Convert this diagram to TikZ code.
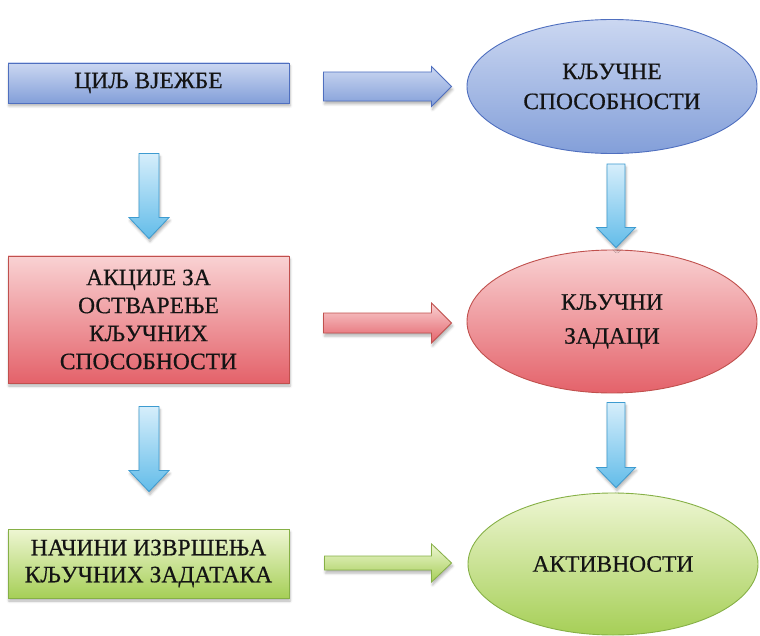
\documentclass[tikz,border=0pt]{standalone}
\usepackage{fontspec}
\setmainfont{Liberation Serif}
\newfontfamily\labelfont{Liberation Serif}[FakeBold=0.5]
\usetikzlibrary{calc,shapes.geometric,shadows.blur}

% colours of the three rows and of the vertical arrows
\definecolor{bluetop}{HTML}{CBD7F1}
\definecolor{bluebot}{HTML}{839FD9}
\definecolor{blueline}{HTML}{4F6FBF}
\definecolor{redtop}{HTML}{F9D2D3}
\definecolor{redbot}{HTML}{E4626A}
\definecolor{redline}{HTML}{C0504D}
\definecolor{greentop}{HTML}{EEF6D3}
\definecolor{greenbot}{HTML}{A6CF57}
\definecolor{greenline}{HTML}{86B046}
\definecolor{skytop}{HTML}{D6EEFB}
\definecolor{skybot}{HTML}{62BCE9}
\definecolor{skyline}{HTML}{3D9BD0}
\definecolor{ink}{HTML}{141414}

\tikzset{
  txt/.style={font=\labelfont\fontsize{23.5}{28}\selectfont, align=center, text=ink},
  softshadow/.style={blur shadow={shadow xshift=1pt, shadow yshift=-3pt,
      shadow opacity=30, shadow blur radius=2.5pt}},
  card/.style={rectangle, draw, line width=0.9pt, minimum width=281pt,
      inner sep=0pt, txt, softshadow},
  oval/.style={ellipse, draw, line width=0.9pt, minimum width=290pt,
      inner sep=0pt, txt},
  bluefill/.style={top color=bluetop, bottom color=bluebot, draw=blueline},
  redfill/.style={top color=redtop, bottom color=redbot, draw=redline},
  greenfill/.style={top color=greentop, bottom color=greenbot, draw=greenline},
  skyarrow/.style={top color=skytop, bottom color=skybot, draw=skyline,
      line width=0.8pt, line join=miter, softshadow},
  rowarrow/.style={line width=0.8pt, line join=miter, softshadow},
}

% block arrow pointing right: style, tail, tip, half body, half head, head length
\newcommand{\blockarrowH}[6]{%
  \draw[#1] ($(#2)+(0,-#4)$) -- ($(#3)+(-#6,-#4)$) -- ($(#3)+(-#6,-#5)$)
    -- (#3) -- ($(#3)+(-#6,#5)$) -- ($(#3)+(-#6,#4)$) -- ($(#2)+(0,#4)$) -- cycle;}
% block arrow pointing down: style, tail, tip, half body, half head, head length
\newcommand{\blockarrowV}[6]{%
  \draw[#1] ($(#2)+(-#4,0)$) -- ($(#3)+(-#4,-#6)$) -- ($(#3)+(-#5,-#6)$)
    -- (#3) -- ($(#3)+(#5,-#6)$) -- ($(#3)+(#4,-#6)$) -- ($(#2)+(#4,0)$) -- cycle;}

\begin{document}
\begin{tikzpicture}[x=1pt, y=-1pt]
  \useasboundingbox (0,0) rectangle (760,636);

  % left column
  \node[card, bluefill, minimum height=40pt] (b1) at (148.5,83) {ЦИЉ ВЈЕЖБЕ};
  \node[card, redfill, minimum height=127pt] (b2) at (148.5,319.5)
    {АКЦИЈЕ ЗА\\ОСТВАРЕЊЕ\\КЉУЧНИХ\\СПОСОБНОСТИ};
  \node[card, greenfill, minimum height=69pt, font=\labelfont\fontsize{23.5}{27}\selectfont] (b3) at (148.5,563.5)
    {НАЧИНИ ИЗВРШЕЊА\\КЉУЧНИХ ЗАДАТАКА};

  % right column
  \node[oval, bluefill, minimum height=134pt, font=\labelfont\fontsize{23.5}{30}\selectfont] (e1) at (612,86.5)
    {КЉУЧНЕ\\СПОСОБНОСТИ};
  \node[oval, redfill, minimum height=143pt, font=\labelfont\fontsize{23.5}{34}\selectfont] (e2) at (612,321.5)
    {КЉУЧНИ\\ЗАДАЦИ};
  \node[oval, greenfill, minimum height=142pt] (e3) at (613,564) {АКТИВНОСТИ};

  % end points of the block arrows
  \coordinate (h1e) at ($(e1.west)+(-15,0)$);
  \coordinate (h1s) at ($(b1.east |- h1e)+(34,0)$);
  \coordinate (h2e) at ($(e2.west)+(-15,1.5)$);
  \coordinate (h2s) at ($(b2.east |- h2e)+(34,0)$);
  \coordinate (h3e) at ($(e3.west)+(-16,-1)$);
  \coordinate (h3s) at ($(b3.east |- h3e)+(35,0)$);

  \coordinate (v1s) at ($(b1.south)+(0.5,50)$);
  \coordinate (v1e) at ($(v1s |- b2.north)+(0,-17)$);
  \coordinate (v2s) at ($(b2.south)+(0.5,23)$);
  \coordinate (v2e) at ($(v2s |- b3.north)+(0,-37)$);
  \coordinate (v3s) at ($(e1.south)+(4,10)$);
  \coordinate (v3e) at ($(v3s |- e2.north)+(0,-2)$);
  \coordinate (v4s) at ($(e2.south)+(4,9)$);
  \coordinate (v4e) at ($(v4s |- e3.north)+(0,-5)$);

  % arrows from the boxes to the ovals
  \blockarrowH{rowarrow, bluefill}{h1s}{h1e}{14.5}{20}{20}
  \blockarrowH{rowarrow, redfill}{h2s}{h2e}{10}{20}{20}
  \blockarrowH{rowarrow, greenfill}{h3s}{h3e}{7}{19}{20}

  % arrows down each column
  \blockarrowV{skyarrow}{v1s}{v1e}{10}{20}{21}
  \blockarrowV{skyarrow}{v2s}{v2e}{10}{20}{21}
  \blockarrowV{skyarrow}{v3s}{v3e}{9}{19.5}{20}
  \blockarrowV{skyarrow}{v4s}{v4e}{9}{19.5}{20}
\end{tikzpicture}
\end{document}
